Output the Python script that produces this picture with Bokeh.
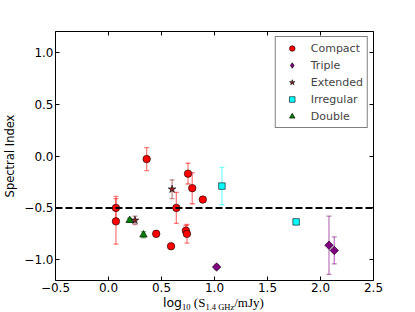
import numpy as np
from bokeh.plotting import figure
from bokeh.layouts import column
from bokeh.models import (ColumnDataSource, Whisker, TeeHead, Span, LinearAxis, Div,
                          FixedTicker, Legend, LegendItem, Range1d, CustomJSTickFormatter)
from bokeh.embed import file_html
from bokeh.resources import INLINE

# ---- data ----
compact_x = [0.07, 0.07, 0.36, 0.45, 0.59, 0.64, 0.73, 0.74, 0.75, 0.79, 0.89]
compact_y = [-0.50, -0.63, -0.03, -0.75, -0.87, -0.50, -0.72, -0.75, -0.17, -0.31, -0.42]
compact_err = [0.11, 0.22, 0.11, 0.03, 0.02, 0.15, 0.05, 0.09, 0.10, 0.15, 0.02]

triple_x = [1.02, 2.08, 2.13]
triple_y = [-1.07, -0.86, -0.91]
triple_err = [0.02, 0.28, 0.13]

extended_x = [0.25, 0.60]
extended_y = [-0.62, -0.32]
extended_err = [0.04, 0.09]

irregular_x = [1.07, 1.77]
irregular_y = [-0.29, -0.635]
irregular_err = [0.18, 0.02]

double_x = [0.20, 0.33]
double_y = [-0.62, -0.76]
double_err = [0.02, 0.03]

x_ticks = [-0.5, 0.0, 0.5, 1.0, 1.5, 2.0, 2.5]
y_ticks = [-1.0, -0.5, 0.0, 0.5, 1.0]
x_limits = (-0.5, 2.5)
y_limits = (-1.2, 1.2)
ref_level = -0.5

# ---- figure ----
p = figure(width=407, height=297, output_backend="svg", toolbar_location=None,
           x_range=Range1d(*x_limits), y_range=Range1d(*y_limits),
           min_border_left=52, min_border_right=34, min_border_top=31, min_border_bottom=17)
p.grid.visible = False
p.outline_line_color = "black"
p.outline_line_width = 1
p.background_fill_color = "white"
p.border_fill_color = "white"

fmt = CustomJSTickFormatter(code="return tick.toFixed(1).replace('-', '\u2212');")
blank = CustomJSTickFormatter(code="return '';")

def style_axis(ax, ticks, labels=True):
    ax.ticker = FixedTicker(ticks=ticks)
    ax.axis_line_color = None
    ax.major_tick_in = 4
    ax.major_tick_out = 0
    ax.major_tick_line_color = "black"
    ax.minor_tick_line_color = None
    if labels:
        ax.formatter = fmt
        ax.major_label_text_font = "DejaVu Sans"
        ax.major_label_text_font_size = "12px"
        ax.major_label_text_color = "black"
    else:
        ax.formatter = blank
        ax.major_label_standoff = 0

style_axis(p.xaxis[0], x_ticks)
p.xaxis[0].major_label_standoff = 2
style_axis(p.yaxis[0], y_ticks)
p.yaxis[0].major_label_standoff = 2
p.yaxis[0].axis_label = "Spectral Index"
p.yaxis[0].axis_label_text_font = "DejaVu Sans"
p.yaxis[0].axis_label_text_font_size = "11.5px"
p.yaxis[0].axis_label_text_font_style = "normal"
p.yaxis[0].axis_label_text_color = "black"
p.yaxis[0].axis_label_standoff = 4

top_ax = LinearAxis()
style_axis(top_ax, x_ticks, labels=False)
p.add_layout(top_ax, "above")
right_ax = LinearAxis()
style_axis(right_ax, y_ticks, labels=False)
p.add_layout(right_ax, "right")

def add_series(xs, ys, errs, color, marker, size, angle=0.0, key_marker=None):
    xs = np.array(xs); ys = np.array(ys); errs = np.array(errs)
    src = ColumnDataSource(dict(x=xs, y=ys, upper=ys + errs, lower=ys - errs))
    w = Whisker(source=src, base="x", upper="upper", lower="lower", dimension="height",
                line_color=color, line_alpha=0.5, line_width=1.3, level="underlay",
                upper_head=TeeHead(size=5, line_color=color, line_alpha=0.5, line_width=1.3),
                lower_head=TeeHead(size=5, line_color=color, line_alpha=0.5, line_width=1.3))
    p.add_layout(w)
    key = None
    if key_marker is not None:
        # drawn underneath the real markers, used only for the legend key shape
        key = p.scatter("x", "y", source=src, marker=key_marker, size=size,
                        fill_color=color, line_color="black", line_width=0.6)
    r = p.scatter("x", "y", source=src, marker=marker, size=size, angle=angle,
                  fill_color=color, line_color="black", line_width=0.6)
    return key if key is not None else r

r_c = add_series(compact_x, compact_y, compact_err, "#ff0000", "circle", 7.5)
r_e = add_series(extended_x, extended_y, extended_err, "#8b2323", "star", 8)
r_d = add_series(double_x, double_y, double_err, "#008000", "triangle", 7.5)
r_i = add_series(irregular_x, irregular_y, irregular_err, "#00ffff", "square", 6.5)
r_t = add_series(triple_x, triple_y, triple_err, "#800080", "square", 6,
                 angle=np.pi / 4, key_marker="diamond")

p.add_layout(Span(location=ref_level, dimension="width", line_color="black",
                  line_dash="7 3", line_width=2))

legend = Legend(items=[LegendItem(label="Compact", renderers=[r_c]),
                       LegendItem(label="Triple", renderers=[r_t]),
                       LegendItem(label="Extended", renderers=[r_e]),
                       LegendItem(label="Irregular", renderers=[r_i]),
                       LegendItem(label="Double", renderers=[r_d])],
                location="top_right", margin=5, padding=4, spacing=3,
                label_height=14, glyph_height=14, glyph_width=24, label_standoff=7,
                border_line_color="black", border_line_width=1,
                label_text_font="DejaVu Sans", label_text_font_size="11px",
                background_fill_color="white", background_fill_alpha=1)
p.add_layout(legend)

# ---- x axis label with sub-scripts, as HTML text below the plot ----
sub = "font-family:'Liberation Serif'; font-size:8.5px; vertical-align:-3px; line-height:12px;"
ser = "font-family:'Liberation Serif'; font-size:13px; line-height:12px;"
xlabel_html = (
    '<div style="position:relative; left:163px; top:-2px; white-space:nowrap; '
    'color:black; line-height:12px;">'
    '<span style="font-family:\'DejaVu Sans\'; font-size:12.5px; line-height:12px;">log</span>'
    f'<span style="{sub}">10</span>'
    f'<span style="{ser}">&nbsp;(S</span>'
    f'<span style="{sub}">1.4&nbsp;GHz</span>'
    f'<span style="{ser}">/mJy)</span>'
    '</div>'
)
xlabel = Div(text=xlabel_html, width=407, height=8, margin=0)

layout = column(p, xlabel, spacing=0)
open("out.html", "w").write(file_html(layout, INLINE))
